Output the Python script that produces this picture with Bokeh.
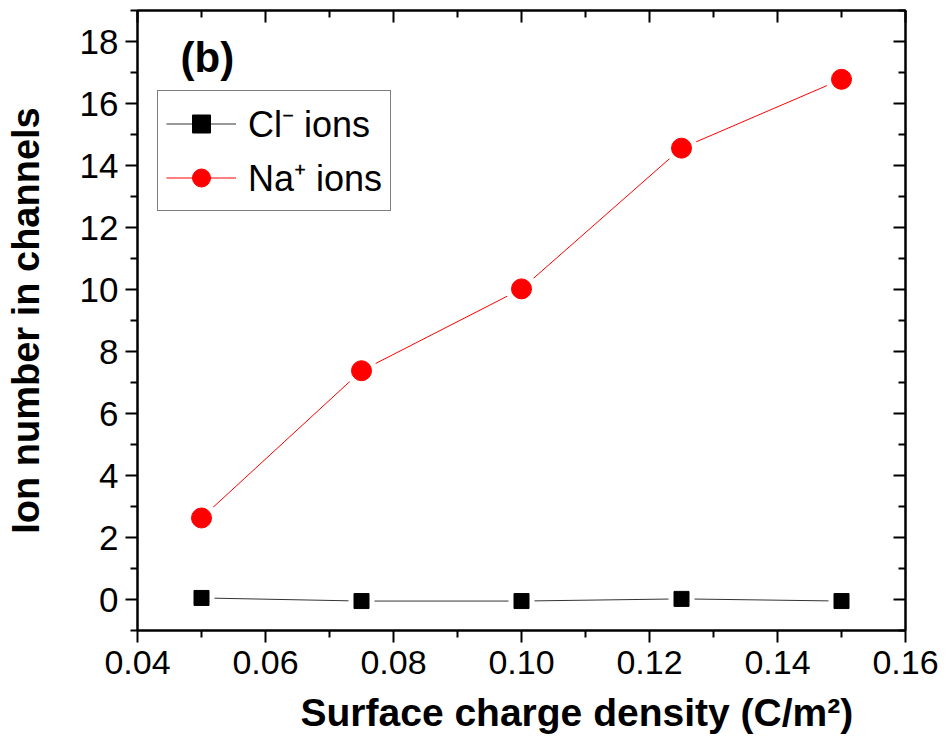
from bokeh.plotting import figure
from bokeh.models import (LinearAxis, FixedTicker, Range1d, Legend, LegendItem,
                          CustomJSTickFormatter, Label, Title)
from bokeh.embed import file_html
from bokeh.resources import INLINE

# ---- data ----
density = [0.05, 0.075, 0.10, 0.125, 0.15]
na_ions = [2.63, 7.38, 10.02, 14.56, 16.78]
cl_ions = [0.05, -0.05, -0.05, 0.02, -0.05]
x_ticks = [0.04, 0.06, 0.08, 0.10, 0.12, 0.14, 0.16]
x_minor = [0.05, 0.07, 0.09, 0.11, 0.13, 0.15]
y_ticks = [0, 2, 4, 6, 8, 10, 12, 14, 16, 18]
y_minor = [-1, 1, 3, 5, 7, 9, 11, 13, 15, 17, 19]
x_tick_labels = {0.04: "0.04", 0.06: "0.06", 0.08: "0.08", 0.10: "0.10",
                 0.12: "0.12", 0.14: "0.14", 0.16: "0.16"}

FONT = "Liberation Sans"

p = figure(width=946, height=747, output_backend="svg", toolbar_location=None,
           x_range=Range1d(0.04, 0.16), y_range=Range1d(-1, 19),
           x_axis_location=None, y_axis_location=None)
p.min_border_left = 137
p.min_border_right = 41
p.min_border_top = 10
p.min_border_bottom = 117
p.grid.visible = False
p.outline_line_color = "black"
p.outline_line_width = 2
p.background_fill_color = "white"
p.border_fill_color = "white"


def style_axis(ax, labels=True, inward=False):
    ax.axis_line_width = 2
    ax.axis_line_color = "black"
    ax.major_tick_line_width = 2
    ax.minor_tick_line_width = 2
    if inward:
        ax.major_tick_in = 12
        ax.major_tick_out = 0
        ax.minor_tick_in = 7
        ax.minor_tick_out = 0
    else:
        ax.major_tick_in = 0
        ax.major_tick_out = 12
        ax.minor_tick_in = 0
        ax.minor_tick_out = 7
    ax.major_label_text_font = FONT
    ax.major_label_text_font_size = "35px"
    ax.major_label_text_color = "black"
    ax.axis_label_text_font = FONT
    ax.axis_label_text_font_style = "bold"
    ax.axis_label_text_font_size = "38px"
    ax.axis_label_text_color = "black"
    if not labels:
        ax.formatter = CustomJSTickFormatter(code="return ''")
        ax.major_label_text_font_size = "0px"
        ax.major_label_standoff = 0


xb = LinearAxis(ticker=FixedTicker(ticks=x_ticks, minor_ticks=x_minor))
style_axis(xb)
xb.major_label_overrides = x_tick_labels
xb.major_label_text_font_size = "34px"
xb.major_label_standoff = 8
p.add_layout(xb, "below")

xtitle = Title(text="Surface charge density (C/m²)", align="left",
               offset=163, standoff=25, text_font=FONT,
               text_font_style="bold", text_font_size="39px",
               text_color="black")
p.add_layout(xtitle, "below")

xt = LinearAxis(ticker=FixedTicker(ticks=x_ticks, minor_ticks=x_minor))
style_axis(xt, labels=False, inward=True)
p.add_layout(xt, "above")

yl = LinearAxis(ticker=FixedTicker(ticks=y_ticks, minor_ticks=y_minor),
                axis_label="Ion number in channels")
style_axis(yl)
yl.major_label_standoff = 7
yl.axis_label_standoff = 30
p.add_layout(yl, "left")

yr = LinearAxis(ticker=FixedTicker(ticks=y_ticks, minor_ticks=y_minor))
style_axis(yr, labels=False, inward=True)
p.add_layout(yr, "right")

# ---- series ----
cl_line = p.line(density, cl_ions, line_color="#333333", line_width=1)
p.scatter(density, cl_ions, marker="square", size=26, fill_color="white",
          line_color=None)
cl_mark = p.scatter(density, cl_ions, marker="square", size=15,
                    fill_color="black", line_color="black")

na_line = p.line(density, na_ions, line_color="red", line_width=1)
p.scatter(density, na_ions, marker="circle", size=32, fill_color="white",
          line_color=None)
na_mark = p.scatter(density, na_ions, marker="circle", size=20,
                    fill_color="red", line_color="red")

legend = Legend(items=[
    LegendItem(label="Cl⁻ ions", renderers=[cl_line, cl_mark]),
    LegendItem(label="Na⁺ ions", renderers=[na_line, na_mark]),
], location=(20, 419))
legend.label_text_font = FONT
legend.label_text_font_size = "36px"
legend.label_text_color = "black"
legend.glyph_width = 70
legend.glyph_height = 45
legend.label_height = 45
legend.label_standoff = 12
legend.spacing = 5
legend.padding = 8
legend.margin = 0
legend.border_line_color = "black"
legend.border_line_width = 1
legend.background_fill_color = "white"
legend.background_fill_alpha = 1
p.add_layout(legend, "center")

tag = Label(x=43, y=573, x_units="screen", y_units="screen", text="(b)",
            text_font=FONT, text_font_style="bold", text_font_size="42px",
            text_color="black", text_baseline="middle")
p.add_layout(tag)

open("out.html", "w").write(file_html(p, INLINE))
